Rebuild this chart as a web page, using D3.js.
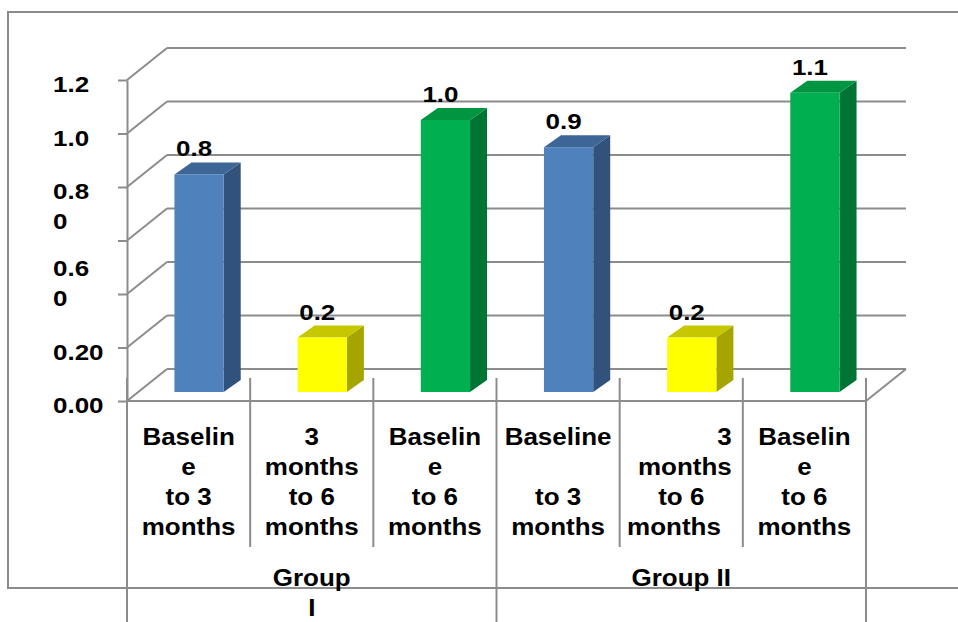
<!DOCTYPE html>
<html>
<head>
<meta charset="utf-8">
<script src="https://cdnjs.cloudflare.com/ajax/libs/d3/7.8.5/d3.min.js"></script>
<style>
  html, body { margin: 0; padding: 0; background: #fff; }
  svg { display: block; }
  text { font-family: "Liberation Sans", Arial, sans-serif; font-weight: bold; font-size: 22px; fill: #000; white-space: pre; }
  text.cat { font-size: 23px; }
</style>
</head>
<body>
<script>
// Mean change per interval, two groups, three intervals each
const groupLabels = [["Group", "I"], ["Group II"]];
const categoryLabels = [
  ["Baselin", "e", "to 3", "months"],
  ["3", "months", "to 6", "months"],
  ["Baselin", "e", "to 6", "months"],
  ["Baseline", "", "to 3", "months"],
  ["\u00a0\u00a0\u00a0\u00a0\u00a0\u00a0\u00a0\u00a0\u00a0\u00a0\u00a0\u00a03", "\u00a0months", "to 6", "months\u00a0\u00a0"],
  ["Baselin", "e", "to 6", "months"]
];
const categoryGroup = [0, 0, 0, 1, 1, 1];
const values = [0.8, 0.2, 1.0, 0.9, 0.2, 1.1];
const valueLabels = ["0.8", "0.2", "1.0", "0.9", "0.2", "1.1"];
const intervalType = [0, 1, 2, 0, 1, 2];

// y axis ticks and their printed labels (some labels wrap onto two lines)
const yTicks = [0, 0.2, 0.4, 0.6, 0.8, 1.0, 1.2];
const yTickLabels = [["0.00"], ["0.20"], ["0.6", "0"], [], ["0.8", "0"], ["1.0"], ["1.2"]];
const yTickAnchorLine = [0, 0, 1, 0, 0, 0, 0];

// face colours: front, top, side
const palette = [
  { front: "#4F81BD", top: "#3D6596", side: "#31527C" },
  { front: "#FFFF00", top: "#C7C700", side: "#A5A500" },
  { front: "#00B050", top: "#009641", side: "#007434" }
];

const W = 958, H = 622;
const gridColor = "#8c8c8c";
const lineH = 30;

const svg = d3.select("body").append("svg").attr("width", W).attr("height", H);

const x = d3.scaleBand().domain(d3.range(categoryLabels.length)).range([127, 866]);
const yFront = d3.scaleLinear().domain([0, 1.2]).range([401, 80]);
const yBar = d3.scaleLinear().domain([0, 1.2]).range([392, 392 - 1.2 * 272]);
const wall = { dx: 40, dy: -32 };
const barDepth = { dx: 17, dy: -12 };

function txt(g, tx, ty, str, anchor, cls, sx = 1.18) {
  return g.append("text")
    .attr("class", cls || null)
    .attr("transform", `translate(${tx},${ty}) scale(${sx},1)`)
    .attr("text-anchor", anchor)
    .text(str);
}

// outer frame
svg.append("rect")
  .attr("x", 8).attr("y", 12).attr("width", 1000).attr("height", 576)
  .attr("fill", "none").attr("stroke", gridColor).attr("stroke-width", 2);

const grid = svg.append("g").attr("stroke", gridColor).attr("stroke-width", 2).attr("fill", "none");
const x0 = x.range()[0], x1 = x.range()[1];

// back wall gridlines and left wall diagonals
yTicks.forEach(t => {
  const yy = yFront(t);
  grid.append("line")
    .attr("x1", x0 + wall.dx).attr("y1", yy + wall.dy)
    .attr("x2", x1 + wall.dx).attr("y2", yy + wall.dy);
  grid.append("line")
    .attr("x1", x0).attr("y1", yy)
    .attr("x2", x0 + wall.dx).attr("y2", yy + wall.dy);
});

// floor front edge and right edge
grid.append("line").attr("x1", x0).attr("y1", yFront(0)).attr("x2", x1).attr("y2", yFront(0));
grid.append("line").attr("x1", x1).attr("y1", yFront(0)).attr("x2", x1 + wall.dx).attr("y2", yFront(0) + wall.dy);

// value axis with tick marks
const axisG = svg.append("g").attr("transform", `translate(${x0},0)`)
  .call(d3.axisLeft(yFront).tickValues(yTicks).tickSize(9).tickSizeOuter(0).tickFormat(""));
axisG.selectAll("path, line").attr("stroke", gridColor).attr("stroke-width", 2);

// value axis labels
const yLab = svg.append("g");
yTicks.forEach((t, i) => {
  yTickLabels[i].forEach((s, j) => {
    txt(yLab, 53, yFront(t) + 12 + (j - yTickAnchorLine[i]) * lineH, s, "start");
  });
});

// category dividers
const bounds = d3.range(categoryLabels.length + 1).map(i => i < categoryLabels.length ? x(i) : x1);
bounds.forEach((bx, i) => {
  const isGroupEdge = i === 0 || i === bounds.length - 1 || categoryGroup[i] !== categoryGroup[i - 1];
  grid.append("line")
    .attr("x1", bx).attr("y1", 378)
    .attr("x2", bx).attr("y2", isGroupEdge ? H : 547);
});

// 3D bars
const bw = x.bandwidth() * 0.4;
const bars = svg.append("g");
values.forEach((v, i) => {
  const c = palette[intervalType[i]];
  const fx = x(i) + x.bandwidth() / 2 + 10.5 - bw / 2;
  const yt = yBar(v), yb = yBar(0);
  bars.append("polygon")
    .attr("points", [[fx + bw, yt], [fx + bw + barDepth.dx, yt + barDepth.dy],
                     [fx + bw + barDepth.dx, yb + barDepth.dy], [fx + bw, yb]].join(" "))
    .attr("fill", c.side);
  bars.append("polygon")
    .attr("points", [[fx, yt], [fx + barDepth.dx, yt + barDepth.dy],
                     [fx + bw + barDepth.dx, yt + barDepth.dy], [fx + bw, yt]].join(" "))
    .attr("fill", c.top);
  bars.append("rect")
    .attr("x", fx).attr("y", yt).attr("width", bw).attr("height", yb - yt)
    .attr("fill", c.front);
  txt(bars, fx + bw / 2 - 5, yt - 18, valueLabels[i], "middle");
});

// category labels
const catG = svg.append("g");
categoryLabels.forEach((lines, i) => {
  const cx = x(i) + x.bandwidth() / 2;
  lines.forEach((s, j) => txt(catG, cx, 445 + j * lineH, s, "middle", "cat", 1.13));
});

// group labels
const groupG = svg.append("g");
groupLabels.forEach((lines, gi) => {
  const idx = categoryGroup.map((g, i) => g === gi ? i : -1).filter(i => i >= 0);
  const gx0 = x(idx[0]);
  const gx1 = x(idx[idx.length - 1]) + x.bandwidth();
  lines.forEach((s, j) => txt(groupG, (gx0 + gx1) / 2, 586 + j * lineH, s, "middle", "cat", 1.13));
});
</script>
</body>
</html>
